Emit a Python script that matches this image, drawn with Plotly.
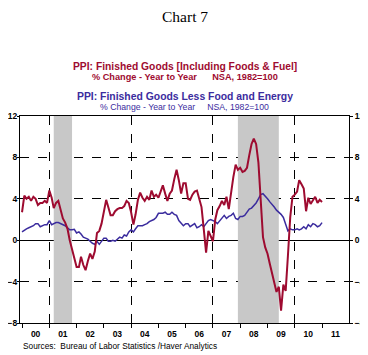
import pandas as pd
import plotly.graph_objects as go

# Monthly dates Jan 2000 - Jan 2011
dates = pd.date_range("2000-01-01", "2011-01-01", freq="MS")

ppi_total = [
    2.7, 4.3, 4.0, 4.2, 3.8, 4.2, 4.0, 3.4, 3.6, 3.6, 3.8, 3.6,      # 2000
    4.8, 4.1, 3.1, 3.6, 3.8, 2.9, 2.1, 1.7, 1.1, 0.0, -0.8, -1.6,    # 2001
    -2.6, -2.6, -1.6, -2.4, -2.9, -2.0, -1.3, -1.8, -1.1, 0.7, 0.9, 1.6,  # 2002
    2.6, 3.9, 3.2, 2.4, 2.4, 2.8, 3.0, 3.1, 3.1, 3.3, 3.8, 3.6,      # 2003
    2.7, 1.5, 2.5, 3.9, 4.6, 4.1, 3.8, 4.2, 3.9, 4.8, 4.2, 4.4,      # 2004
    4.1, 4.8, 5.3, 4.5, 3.8, 4.5, 4.8, 5.9, 6.8, 5.8, 4.5, 5.5,      # 2005
    5.5, 4.0, 3.9, 4.4, 4.7, 4.8, 4.0, 3.2, 1.0, -1.2, 0.9, 0.4,     # 2006
    -0.1, 2.0, 2.9, 3.3, 3.8, 3.4, 4.2, 3.0, 4.8, 6.1, 7.3, 6.8,     # 2007
    7.0, 6.6, 6.7, 7.0, 8.2, 9.3, 9.8, 9.3, 7.5, 4.0, 0.3, -0.7,     # 2008
    -1.3, -2.3, -3.2, -4.2, -5.0, -4.5, -6.8, -4.3, -4.9, -1.5, 2.2, 4.2,  # 2009
    4.4, 4.7, 5.8, 5.4, 5.0, 2.8, 4.1, 3.5, 3.9, 4.2, 3.6, 3.9,      # 2010
    3.7,                                                             # 2011
]

ppi_core = [
    0.8, 1.0, 1.1, 1.2, 1.3, 1.4, 1.6, 1.6, 1.3, 1.4, 1.5, 1.5,      # 2000
    1.9, 1.5, 1.6, 1.7, 1.7, 1.6, 1.5, 1.4, 1.2, 1.0, 1.0, 1.05,     # 2001
    0.7, 0.8, 0.6, 0.3, 0.2, 0.1, -0.1, -0.3, -0.4, -0.1, -0.4, -0.1,  # 2002
    0.2, 0.2, -0.1, -0.1, 0.0, -0.1, 0.1, 0.3, 0.2, 0.5, 0.4, 0.8,   # 2003
    1.0, 0.8, 1.1, 1.4, 1.4, 1.4, 1.5, 1.6, 1.8, 1.9, 2.0, 2.2,      # 2004
    2.6, 2.6, 2.6, 2.7, 2.5, 2.5, 2.7, 2.5, 2.4, 1.9, 1.6, 1.4,      # 2005
    1.6, 1.6, 1.3, 1.5, 1.6, 1.2, 1.3, 1.5, 1.3, 1.6, 1.9, 2.0,      # 2006
    1.9, 1.8, 1.6, 1.9, 2.1, 2.4, 2.1, 2.3, 2.4, 2.6, 2.1, 2.0,      # 2007
    2.3, 2.3, 2.4, 2.7, 3.0, 3.1, 3.3, 3.6, 4.0, 4.4, 4.5, 4.3,      # 2008
    4.0, 3.7, 3.5, 3.2, 2.9, 2.7, 2.5, 2.2, 1.6, 0.9, 1.1, 1.0,      # 2009
    1.0, 1.1, 1.0, 1.1, 1.3, 1.1, 1.5, 1.3, 1.6, 1.5, 1.3, 1.4,      # 2010
    1.7,                                                             # 2011
]

year_labels = ["00", "01", "02", "03", "04", "05", "06", "07", "08", "09", "10", "11"]
year_mid = [f"{2000 + i}-07-01" for i in range(12)]
year_starts = [f"{2000 + i}-01-01" for i in range(13)]
grid_years = ["2001-01-01", "2004-01-01", "2007-01-01", "2010-01-01"]
y_ticks = [-8, -4, 0, 4, 8, 12]

recessions = [("2001-03-01", "2001-11-01"), ("2007-12-01", "2009-06-01")]

RED = "#9E0B30"
BLUE = "#3B2C9E"
x_range = ["1999-12-05", "2011-12-28"]
y_range = [-8, 12]

fig = go.Figure()
fig.add_trace(go.Scatter(x=dates, y=ppi_core, mode="lines",
                         line=dict(color=BLUE, width=1.5), xaxis="x", yaxis="y",
                         showlegend=False, hoverinfo="skip"))
fig.add_trace(go.Scatter(x=dates, y=ppi_total, mode="lines",
                         line=dict(color=RED, width=2), xaxis="x2", yaxis="y2",
                         showlegend=False, hoverinfo="skip"))

for start, end in recessions:
    fig.add_shape(type="rect", xref="x", yref="y", x0=start, x1=end,
                  y0=y_range[0], y1=y_range[1], fillcolor="#C8C8C8",
                  line=dict(width=0), layer="between")

tick_font = dict(family="Liberation Sans, Arial", size=8.5, color="black", weight="bold")

# page body has an 8px margin, so the figure is sized to fit the 368x355 window
fig.update_layout(
    width=360, height=347,
    margin=dict(l=12, r=19, t=108, b=32, autoexpand=False),
    paper_bgcolor="white", plot_bgcolor="white",
    showlegend=False,
    xaxis=dict(type="date", range=x_range, tickmode="array", tickvals=year_mid,
               ticktext=year_labels, ticks="", showgrid=False, zeroline=False,
               automargin=False, ticklabelstandoff=3,
               showline=True, linecolor="black", linewidth=1, mirror=True,
               tickfont=dict(family="Liberation Sans, Arial", size=8.5, color="black", weight="bold"),
               minor=dict(ticks="outside", ticklen=4, tickcolor="black",
                          tickmode="array", tickvals=year_starts)),
    xaxis2=dict(type="date", range=x_range, overlaying="x", tickmode="array",
                tickvals=grid_years, showticklabels=False, ticks="",
                automargin=False,
                showgrid=True, gridcolor="black", griddash="dash", gridwidth=1,
                zeroline=False, showline=False),
    yaxis=dict(range=y_range, tickmode="array", tickvals=y_ticks,
               ticks="outside", ticklen=2, tickcolor="black", automargin=False,
               ticklabelstandoff=-2,
               showgrid=True, gridcolor="black", griddash="dash", gridwidth=1,
               zeroline=True, zerolinecolor="black", zerolinewidth=1,
               showline=True, linecolor="black", linewidth=1, mirror=True,
               tickfont=tick_font),
    yaxis2=dict(range=y_range, overlaying="y", side="right", anchor="x2",
                tickmode="array", tickvals=y_ticks, ticks="outside", ticklen=3,
                tickcolor="black", showgrid=False, zeroline=False, automargin=False,
                showline=False, tickfont=tick_font),
)

ann = [
    dict(text="Chart 7", x=0.5, y=1.481,
         font=dict(family="Liberation Serif, Times New Roman", size=15.5, color="black")),
    dict(text="<b>PPI: Finished Goods [Including Foods &amp; Fuel]</b>", x=0.503, y=1.238,
         font=dict(family="Liberation Sans, Arial", size=10.3, color=RED)),
    dict(text="<b>% Change - Year to Year\u00a0\u00a0\u00a0\u00a0\u00a0\u00a0NSA, 1982=100</b>", x=0.5, y=1.187,
         font=dict(family="Liberation Sans, Arial", size=9.2, color=RED)),
    dict(text="<b>PPI: Finished Goods Less Food and Energy</b>", x=0.503, y=1.095,
         font=dict(family="Liberation Sans, Arial", size=10.4, color=BLUE)),
    dict(text="% Change - Year to Year\u00a0\u00a0\u00a0\u00a0\u00a0NSA, 1982=100", x=0.5, y=1.045,
         font=dict(family="Liberation Sans, Arial", size=8.7, color=BLUE)),
]
for a in ann:
    fig.add_annotation(xref="paper", yref="paper", showarrow=False,
                       xanchor="center", yanchor="middle", **a)

fig.add_annotation(xref="paper", yref="paper", showarrow=False, x=0.003, y=-0.112,
                   xanchor="left", yanchor="middle",
                   text="Sources:\u00a0\u00a0Bureau of Labor Statistics /Haver Analytics",
                   font=dict(family="Liberation Sans, Arial", size=8.3, color="black"))

fig.write_html("out.html")
